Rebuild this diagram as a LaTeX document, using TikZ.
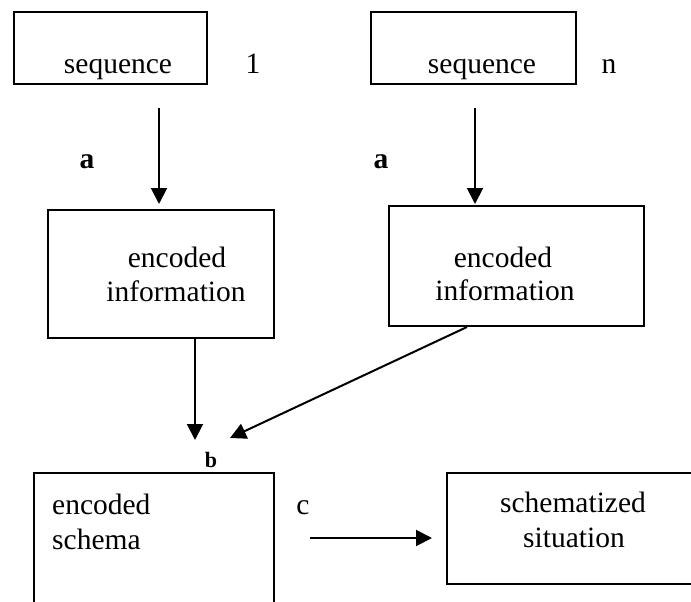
\documentclass[tikz,border=0pt]{standalone}
\usepackage{fontspec}
\setmainfont{Liberation Serif}
\usetikzlibrary{arrows.meta}

\tikzset{
  box/.style={draw, line width=2pt, rectangle, inner sep=0pt},
  txt/.style={anchor=base, inner sep=0pt, font=\fontsize{29.5}{34}\selectfont},
  tag/.style={anchor=base, inner sep=0pt, font=\fontsize{29.5}{34}\selectfont\bfseries},
  smalltag/.style={anchor=base, inner sep=0pt, font=\fontsize{22}{26}\selectfont\bfseries},
  flow/.style={line width=2pt, -{Triangle[length=16pt,width=16pt]}}
}

\begin{document}
\begin{tikzpicture}[x=1pt,y=-1pt]
\useasboundingbox (0,0) rectangle (691,602);
\clip (0,0) rectangle (691,602);

% boxes
\node[box, minimum width=193pt, minimum height=72pt]  (seq1) at (110.5,48) {};
\node[box, minimum width=205pt, minimum height=72pt]  (seqn) at (473.5,48) {};
\node[box, minimum width=226pt, minimum height=128pt] (enc1) at (161,274) {};
\node[box, minimum width=255pt, minimum height=120pt] (encn) at (516.5,266) {};
\node[box, minimum width=240pt, minimum height=150pt] (schema) at (154,548) {};
\node[box, minimum width=263pt, minimum height=111pt] (situ) at (578.5,528.5) {};

% box texts
\node[txt] (t1) at (118,74) {sequence};
\node[txt] (tn) at (482,74) {sequence};
\node[txt] (one) at (253,74) {1};
\node[txt] (en) at (609,74) {n};
\node[txt] (e1a) at (177,267) {encoded};
\node[txt] (e1b) at (176,301) {information};
\node[txt] (e2a) at (503,267) {encoded};
\node[txt] (e2b) at (505,300) {information};
\node[txt, anchor=base west] (s1) at (52,514) {encoded};
\node[txt, anchor=base west] (s2) at (52,549) {schema};
\node[txt] (w1) at (573,512) {schematized};
\node[txt] (w2) at (574,547) {situation};

% labels
\node[tag] (la1) at (87,168) {a};
\node[tag] (la2) at (381,168) {a};
\node[smalltag] (lb) at (211,467) {b};
\node[txt] (lc) at (303,514) {c};

% connectors
\coordinate (s1top) at (159,108);
\coordinate (sntop) at (475,108);
\coordinate (m1) at (195,440);
\coordinate (m2) at (230,438);
\coordinate (cstart) at (310,538);

\draw[flow, shorten >=5pt] (s1top) -- (s1top |- enc1.north);
\draw[flow, shorten >=1pt] (sntop) -- (sntop |- encn.north);
\draw[flow] (enc1.south -| m1) -- (m1);
\draw[flow] (encn.south -| 467,0) -- (m2);
\draw[flow, shorten >=14pt] (cstart) -- (cstart -| situ.west);
\end{tikzpicture}
\end{document}
